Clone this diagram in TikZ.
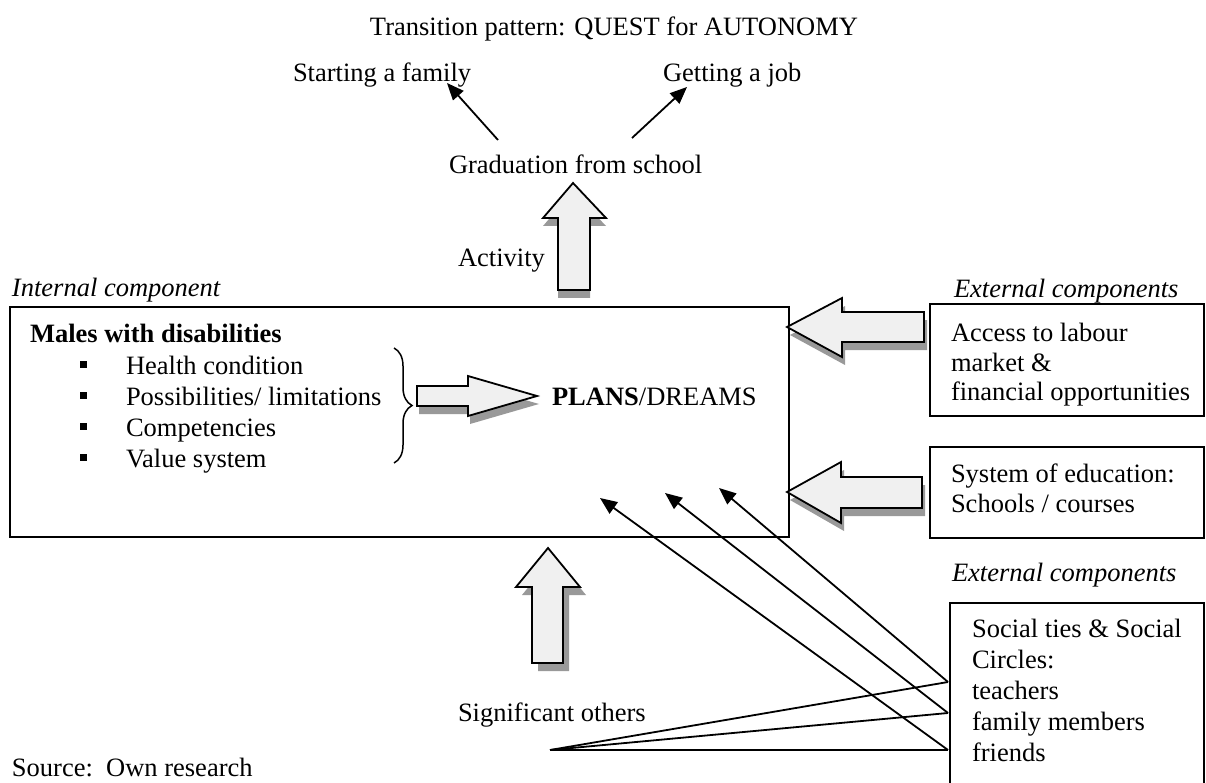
\documentclass[tikz,border=0pt]{standalone}
\usepackage{fontspec}
\setmainfont{Liberation Serif}
\usetikzlibrary{arrows.meta,decorations.pathreplacing}
\begin{document}
\begin{tikzpicture}[x=1pt,y=-1pt,
  every node/.style={inner sep=0pt, outer sep=0pt, font=\fontsize{26.5}{31}\selectfont},
  txt/.style={anchor=base west},
  box/.style={draw, line width=2pt, rectangle, anchor=north west},
  bullet/.style={fill=black, rectangle, minimum size=7pt},
  barrow/.style={draw, line width=1.8pt, fill=black!6, line join=miter,
     preaction={fill=black!40, transform canvas={shift={#1}}}},
  thinarrow/.style={line width=1.8pt, -{Triangle[length=17pt,width=14pt]}},
  plainline/.style={line width=1.8pt}]
\useasboundingbox (0,0) rectangle (1206,783);

% top texts
\node[anchor=base] (title) at (614,36) {Transition pattern: QUEST for AUTONOMY};
\node[txt] (family) at (293,82) {Starting a family};
\node[txt] (job) at (663,82) {Getting a job};
\node[txt] (grad) at (449,174) {Graduation from school};
\node[txt] (activity) at (458,267) {Activity};

\coordinate (g1) at (498,140);
\coordinate (f1) at (447,83);
\coordinate (g2) at (632,138);
\coordinate (j1) at (687,87);
\draw[thinarrow] (g1) -- (f1);
\draw[thinarrow] (g2) -- (j1);

% main box
\node[txt] (internal) at (12,297) {\itshape Internal component};
\node[box, minimum width=779pt, minimum height=230pt] (main) at (10,307) {};
\node[txt] (males) at (30,342) {\bfseries Males with disabilities};
\node[txt] (i1) at (126,374) {Health condition};
\node[txt] (i2) at (126,405) {Possibilities/ limitations};
\node[txt] (i3) at (126,436) {Competencies};
\node[txt] (i4) at (126,467) {Value system};
\node[bullet] (b1) at (83.5,364.5) {};
\node[bullet] (b2) at (83.5,395.5) {};
\node[bullet] (b3) at (83.5,426.5) {};
\node[bullet] (b4) at (83.5,457.5) {};
\draw[line width=1.5pt, decorate, decoration={brace, amplitude=18pt}] (394,348) -- (394,463);
\node[txt] (plans) at (552,405) {{\bfseries PLANS}/DREAMS};

% block arrows
\draw[barrow={(0pt,-8pt)}] (558,290) -- (558,218) -- (543,218) -- (573,183) -- (606,218) -- (590,218) -- (590,290) -- cycle;
\draw[barrow={(6pt,-8pt)}] (532,663) -- (532,587) -- (516,587) -- (548,548) -- (580,587) -- (563,587) -- (563,663) -- cycle;
\draw[barrow={(2pt,-8pt)}] (417,386) -- (468,386) -- (468,376) -- (537,396) -- (468,416) -- (468,406) -- (417,406) -- cycle;
\draw[barrow={(3pt,-8pt)}] (924,312) -- (842,312) -- (842,298) -- (787,327) -- (842,357) -- (842,342) -- (924,342) -- cycle;
\draw[barrow={(3pt,-8pt)}] (922,477) -- (841,477) -- (841,462) -- (787,492) -- (841,523) -- (841,508) -- (922,508) -- cycle;

% right boxes
\node[txt] (ext1) at (954,298) {\itshape External components};
\node[box, minimum width=274pt, minimum height=112pt] (access) at (930,304) {};
\node[txt] (a1) at (951,341) {Access to labour};
\node[txt] (a2) at (951,371) {market \&};
\node[txt] (a3) at (951,400) {financial opportunities};
\node[box, minimum width=274pt, minimum height=91pt] (edu) at (930,447) {};
\node[txt] (e1) at (951,482) {System of education:};
\node[txt] (e2) at (951,512) {Schools / courses};
\node[txt] (ext2) at (952,581) {\itshape External components};
\node[box, minimum width=254pt, minimum height=230pt] (social) at (950,603) {};
\node[txt] (s1) at (972,637) {Social ties \& Social};
\node[txt] (s2) at (972,668) {Circles:};
\node[txt] (s3) at (972,699) {teachers};
\node[txt] (s4) at (972,730) {family members};
\node[txt] (s5) at (972,761) {friends};

% significant others
\node[txt] (sig) at (458,721) {Significant others};
\coordinate (so) at (550,750);
\coordinate (p1) at (948,682);
\coordinate (p2) at (948,713);
\coordinate (p3) at (948,750);
\coordinate (tA) at (600,498);
\coordinate (tB) at (665,493);
\coordinate (tC) at (719,488);
\draw[plainline] (so) -- (p1);
\draw[plainline] (so) -- (p2);
\draw[plainline] (so) -- (p3);
\draw[thinarrow] (p3) -- (tA);
\draw[thinarrow] (p2) -- (tB);
\draw[thinarrow] (p1) -- (tC);

\node[txt] (source) at (12,776) {Source:\ \ Own research};
\end{tikzpicture}
\end{document}
